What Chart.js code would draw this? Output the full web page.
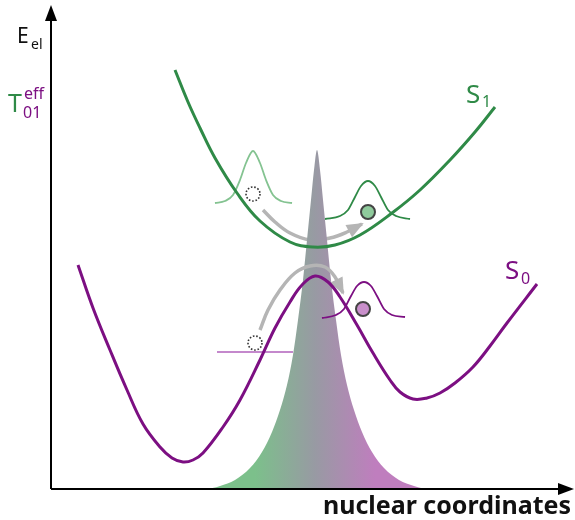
<!DOCTYPE html>
<html>
<head>
<meta charset="utf-8">
<script src="https://cdn.jsdelivr.net/npm/chart.js@4"></script>
<style>
  html, body { margin: 0; background: #fff; }
  #wrap { width: 575px; height: 520px; }
</style>
</head>
<body>
<div id="wrap"><canvas id="chart"></canvas></div>
<script>
// Schematic: x = nuclear coordinate, y = electronic energy (arbitrary units)
const s1X = [125, 138, 150, 165, 187, 210, 240, 263, 285, 310, 342, 370, 400, 425, 445];
const s1Y = [420, 388, 362, 332, 297, 269, 248, 243, 245, 255, 277, 300, 330, 358, 383];

const s0X = [28, 43, 60, 77, 93, 110, 122, 133, 143, 153, 173, 190, 210, 225, 240, 252, 265, 278, 290, 307, 323, 340, 350, 363, 377, 390, 405, 423, 440, 457, 487];
const s0Y = [225, 182, 140, 100, 66, 43, 32, 28, 30, 37, 63, 90, 130, 162, 188, 205, 214, 208, 193, 165, 137, 110, 98, 91, 92, 97, 107, 123, 144, 167, 206];

// coupling / overlap peak (T01 eff)
const peakX = [155, 170, 185, 200, 212, 222, 230, 237, 243, 248, 253, 257, 261, 264, 267, 270, 273, 277, 281, 286, 291, 297, 304, 312, 322, 334, 349, 364, 380];
const peakY = [0, 4, 10, 22, 38, 58, 80, 105, 135, 170, 210, 250, 290, 320, 340, 320, 290, 250, 210, 170, 135, 105, 80, 58, 38, 22, 10, 4, 0];

// vibrational wave packets
const packetLeftX = [165, 175, 183, 190, 196, 203, 210, 216, 223, 231, 242];
const packetLeftY = [287, 289, 295, 310, 327, 339, 327, 310, 295, 289, 287];
const packetS1X = [275, 290, 298, 305, 311, 318, 325, 331, 338, 346, 360];
const packetS1Y = [271, 274, 280, 293, 304, 309, 304, 293, 280, 274, 271];
const packetS0X = [272, 286, 294, 301, 307, 314, 321, 327, 334, 342, 355];
const packetS0Y = [172, 175, 181, 194, 204, 208, 204, 194, 181, 175, 173];
const levelS0X = [167, 243];
const levelS0Y = [138, 138];

// transfer arrows (last point = arrow tip)
const arrowUpperX = [213, 225, 240, 260, 280, 297, 312];
const arrowUpperY = [280, 268, 257, 250, 252, 258, 266];
const arrowLowerX = [210, 218, 230, 245, 260, 275, 285, 293];
const arrowLowerY = [160, 180, 200, 217, 224, 223, 213, 197];

// populations
const startX = [203, 205];
const startY = [296, 147];
const endX = [318, 313];
const endY = [278, 181];
const endColor = ['#8fca9c', '#c98fcb'];

function pts(xs, ys) {
  return xs.map((x, i) => ({ x: x, y: ys[i] }));
}

const GREEN = '#2f8a47';
const PURPLE = '#7c0f82';
const GREY = '#b5b5b5';

function line(data, color, width, order, id, smooth) {
  const ds = {
    id: id,
    data: data,
    borderColor: color,
    borderWidth: width,
    pointRadius: 0,
    fill: false,
    order: order
  };
  if (smooth) ds.tension = 0.4;
  else ds.cubicInterpolationMode = 'monotone';
  return ds;
}

function arrowHead(c, meta) {
  const n = meta.data.length;
  const tip = meta.data[n - 1], prev = meta.data[n - 2];
  const ang = Math.atan2(tip.y - prev.y, tip.x - prev.x);
  c.save();
  c.translate(tip.x, tip.y);
  c.rotate(ang);
  c.fillStyle = GREY;
  c.beginPath();
  c.moveTo(2, 0);
  c.lineTo(-15, -7);
  c.lineTo(-15, 7);
  c.closePath();
  c.fill();
  c.restore();
}

const drawPlugin = {
  id: 'extras',
  afterDatasetDraw(chart, args) {
    const ds = chart.data.datasets[args.index];
    if (ds.id === 'arrow') arrowHead(chart.ctx, args.meta);
  },
  afterDatasetsDraw(chart) {
    const c = chart.ctx;
    const a = chart.chartArea;
    const sx = chart.scales.x, sy = chart.scales.y;

    // dotted start circles
    const meta = chart.getDatasetMeta(chart.data.datasets.findIndex(d => d.id === 'start'));
    c.save();
    c.strokeStyle = '#333';
    c.lineWidth = 1.6;
    c.setLineDash([1.6, 1.8]);
    meta.data.forEach(p => {
      c.beginPath();
      c.arc(p.x, p.y, 7, 0, Math.PI * 2);
      c.stroke();
    });
    c.restore();

    // axes with arrows
    c.save();
    c.strokeStyle = '#000';
    c.fillStyle = '#000';
    c.lineWidth = 2;
    const x0 = a.left + 1, y0 = a.bottom - 1;
    c.beginPath();
    c.moveTo(x0, y0);
    c.lineTo(x0, a.top + 10);
    c.moveTo(x0, y0);
    c.lineTo(a.right - 10, y0);
    c.stroke();
    c.beginPath();
    c.moveTo(x0, a.top);
    c.lineTo(x0 - 6, a.top + 16);
    c.lineTo(x0 + 6, a.top + 16);
    c.closePath();
    c.fill();
    c.beginPath();
    c.moveTo(a.right - 1, y0);
    c.lineTo(a.right - 17, y0 - 6);
    c.lineTo(a.right - 17, y0 + 6);
    c.closePath();
    c.fill();

    // labels
    const F = '"Noto Sans", sans-serif';
    c.textBaseline = 'alphabetic';
    c.textAlign = 'left';
    c.fillStyle = '#111';
    c.font = '21px ' + F;
    c.fillText('E', 17, 43);
    c.font = '14px ' + F;
    c.fillText('el', 31, 49);

    c.fillStyle = GREEN;
    c.font = '25px ' + F;
    c.fillText('T', 8, 112);
    c.fillStyle = PURPLE;
    c.font = '16px ' + F;
    c.fillText('eff', 24, 99);
    c.fillText('01', 23, 118);

    c.fillStyle = GREEN;
    c.font = '26px ' + F;
    c.fillText('S', sx.getPixelForValue(416), sy.getPixelForValue(387));
    c.font = '16px ' + F;
    c.fillText('1', sx.getPixelForValue(432), sy.getPixelForValue(383));

    c.fillStyle = PURPLE;
    c.font = '26px ' + F;
    c.fillText('S', sx.getPixelForValue(455), sy.getPixelForValue(211));
    c.font = '16px ' + F;
    c.fillText('0', sx.getPixelForValue(471), sy.getPixelForValue(206));

    c.fillStyle = '#111';
    c.font = 'bold 25px ' + F;
    c.textAlign = 'right';
    c.fillText('nuclear coordinates', 571, 514);
    c.restore();
  }
};

const ctx = document.getElementById('chart');
new Chart(ctx, {
  type: 'line',
  data: {
    datasets: [
      {
        id: 'end',
        data: pts(endX, endY),
        showLine: false,
        pointRadius: 7,
        pointBackgroundColor: endColor,
        pointBorderColor: '#444',
        pointBorderWidth: 2,
        order: 0
      },
      {
        id: 'start',
        data: pts(startX, startY),
        showLine: false,
        pointRadius: 0,
        order: 1
      },
      line(pts(s1X, s1Y), GREEN, 3, 2, 's1', true),
      line(pts(s0X, s0Y), PURPLE, 3, 3, 's0', true),
      line(pts(packetS0X, packetS0Y), PURPLE, 1.8, 4),
      line(pts(arrowLowerX, arrowLowerY), GREY, 3.5, 6, 'arrow', true),
      {
        data: pts(peakX, peakY),
        borderWidth: 0,
        pointRadius: 0,
        cubicInterpolationMode: 'monotone',
        fill: 'origin',
        backgroundColor: (c) => {
          const chart = c.chart;
          if (!chart.chartArea) return '#9a9aa2';
          const sx = chart.scales.x;
          const g = chart.ctx.createLinearGradient(sx.getPixelForValue(205), 0, sx.getPixelForValue(325), 0);
          g.addColorStop(0, '#7cc08b');
          g.addColorStop(0.5, '#989aa3');
          g.addColorStop(1, '#bf7ebe');
          return g;
        },
        order: 7
      },
      line(pts(arrowUpperX, arrowUpperY), GREY, 3.5, 8, 'arrow', true),
      line(pts(packetS1X, packetS1Y), GREEN, 1.8, 9),
      line(pts(packetLeftX, packetLeftY), '#84c391', 1.8, 10),
      line(pts(levelS0X, levelS0Y), '#c488cc', 1.8, 11)
    ]
  },
  options: {
    responsive: true,
    maintainAspectRatio: false,
    animation: false,
    layout: { autoPadding: false, padding: { left: 50, right: 0, top: 5, bottom: 30 } },
    plugins: { legend: { display: false }, tooltip: { enabled: false } },
    scales: {
      x: { type: 'linear', min: 0, max: 525, display: false },
      y: { type: 'linear', min: 0, max: 485, display: false }
    }
  },
  plugins: [drawPlugin]
});
</script>
</body>
</html>
